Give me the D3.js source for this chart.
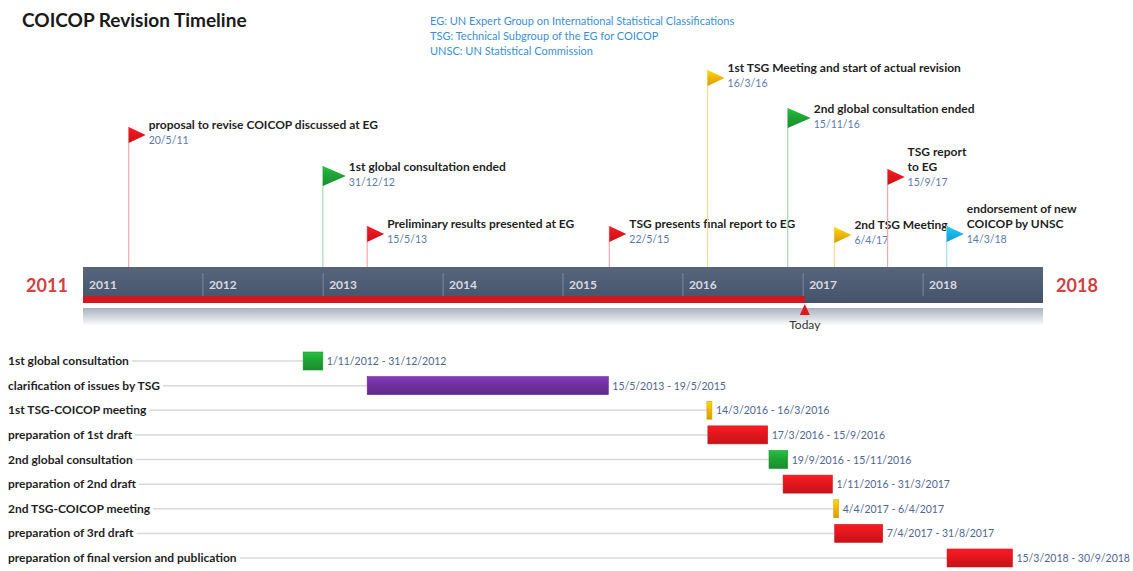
<!DOCTYPE html>
<html>
<head>
<meta charset="utf-8">
<script src="https://cdn.jsdelivr.net/npm/d3@7/dist/d3.min.js"></script>
<style>
  body { margin: 0; background: #fff; }
  svg { display: block; font-family: Lato, "Open Sans", sans-serif; }
</style>
</head>
<body>
<svg id="chart" width="1133" height="571"></svg>
<script>
// --- data ---
var titleText = "COICOP Revision Timeline";
var legendLines = [
    "EG: UN Expert Group on International Statistical Classifications",
    "TSG: Technical Subgroup of the EG for COICOP",
    "UNSC: UN Statistical Commission"
];

var msLabels = [
    "proposal to revise COICOP discussed at EG",
    "1st global consultation ended",
    "Preliminary results presented at EG",
    "TSG presents final report to EG",
    "1st TSG Meeting and start of actual revision",
    "2nd global consultation ended",
    "2nd TSG Meeting",
    "TSG report|to EG",
    "endorsement of new|COICOP by UNSC"
];
var msDates = ["20/5/11", "31/12/12", "15/5/13", "22/5/15", "16/3/16", "15/11/16", "6/4/17", "15/9/17", "14/3/18"];
var msKinds = ["EG", "consultation", "EG", "EG", "meeting", "consultation", "meeting", "EG", "UNSC"];

var taskLabels = [
    "1st global consultation",
    "clarification of issues by TSG",
    "1st TSG-COICOP meeting",
    "preparation of 1st draft",
    "2nd global consultation",
    "preparation of 2nd draft",
    "2nd TSG-COICOP meeting",
    "preparation of 3rd draft",
    "preparation of final version and publication"
];
var taskStarts = ["1/11/2012", "15/5/2013", "14/3/2016", "17/3/2016", "19/9/2016", "1/11/2016", "4/4/2017", "7/4/2017", "15/3/2018"];
var taskEnds = ["31/12/2012", "19/5/2015", "16/3/2016", "15/9/2016", "15/11/2016", "31/3/2017", "6/4/2017", "31/8/2017", "30/9/2018"];
var taskKinds = ["consultation", "TSG", "meeting", "EG", "consultation", "EG", "meeting", "EG", "EG"];

var yearStart = "2011";
var yearEnd = "2018";
var todayDate = "6/1/2017";

// --- layout ---
var svg = d3.select("#chart");
var parseShort = d3.timeParse("%d/%m/%y");
var parseLong = d3.timeParse("%d/%m/%Y");

var x = d3.scaleTime()
    .domain([new Date(+yearStart, 0, 1), new Date(+yearEnd + 1, 0, 1)])
    .range([83, 1043]);

var kindColor = d3.scaleOrdinal()
    .domain(["EG", "consultation", "meeting", "UNSC", "TSG"])
    .range(["#e3161d", "#1fa336", "#f2b705", "#19b4ea", "#7030a0"]);
var poleColor = d3.scaleOrdinal()
    .domain(["EG", "consultation", "meeting", "UNSC"])
    .range(["#f5a9ad", "#a6dcae", "#f7dc8c", "#9ed9f2"]);

// last title line centre of each milestone
var msLevels = [125, 167, 224, 224, 68, 109, 225, 167, 224];

var defs = svg.append("defs");
kindColor.domain().forEach(function (k) {
    var c = d3.color(kindColor(k));
    var g = defs.append("linearGradient").attr("id", "g-" + k)
        .attr("x1", 0).attr("y1", 0).attr("x2", 0).attr("y2", 1);
    g.append("stop").attr("offset", "0%").attr("stop-color", c.brighter(0.5));
    g.append("stop").attr("offset", "45%").attr("stop-color", c);
    g.append("stop").attr("offset", "100%").attr("stop-color", c.darker(0.4));
});
var bg = defs.append("linearGradient").attr("id", "barGrad")
    .attr("x1", 0).attr("y1", 0).attr("x2", 0).attr("y2", 1);
bg.append("stop").attr("offset", "0%").attr("stop-color", "#56647c");
bg.append("stop").attr("offset", "100%").attr("stop-color", "#45526a");
var sh = defs.append("linearGradient").attr("id", "shadowGrad")
    .attr("x1", 0).attr("y1", 0).attr("x2", 0).attr("y2", 1);
sh.append("stop").attr("offset", "0%").attr("stop-color", "#aab1bd");
sh.append("stop").attr("offset", "100%").attr("stop-color", "#ffffff");

// title + legend
svg.append("text").attr("x", 22).attr("y", 27)
    .attr("font-size", 19).attr("font-weight", "bold").attr("fill", "#1a1a1a")
    .text(titleText);

svg.append("g").selectAll("text").data(legendLines).join("text")
    .attr("x", 430).attr("y", function (d, i) { return 25 + i * 15; })
    .attr("font-size", 11).attr("fill", "#3a8fd8")
    .text(function (d) { return d; });

// timeline bar
var barTop = 267, barBottom = 303;
svg.append("rect").attr("x", x.range()[0]).attr("y", barTop)
    .attr("width", x.range()[1] - x.range()[0]).attr("height", barBottom - barTop)
    .attr("fill", "url(#barGrad)");
svg.append("rect").attr("x", x.range()[0]).attr("y", 308)
    .attr("width", x.range()[1] - x.range()[0]).attr("height", 18)
    .attr("fill", "url(#shadowGrad)");

var years = x.ticks(d3.timeYear.every(1)).filter(function (d) { return d < x.domain()[1]; });
svg.append("g").selectAll("line").data(years.slice(1)).join("line")
    .attr("x1", function (d) { return x(d); }).attr("x2", function (d) { return x(d); })
    .attr("y1", 273).attr("y2", 296)
    .attr("stroke", "#7d889c").attr("stroke-width", 1);
svg.append("g").selectAll("text").data(years).join("text")
    .attr("x", function (d) { return x(d) + 6; }).attr("y", 289)
    .attr("font-size", 12).attr("font-weight", "bold").attr("fill", "#d6dae2")
    .text(d3.timeFormat("%Y"));

var today = parseLong(todayDate);
svg.append("rect").attr("x", x.range()[0]).attr("y", 296)
    .attr("width", x(today) - x.range()[0]).attr("height", 7)
    .attr("fill", "#d4161e");
svg.append("path")
    .attr("d", d3.line()([[x(today) - 5, 315], [x(today), 304], [x(today) + 5, 315]]) + "Z")
    .attr("fill", "#e3161d");
svg.append("text").attr("x", x(today)).attr("y", 329).attr("text-anchor", "middle")
    .attr("font-size", 12).attr("fill", "#333").text("Today");

svg.append("text").attr("x", 47).attr("y", 292).attr("text-anchor", "middle")
    .attr("font-size", 18).attr("font-weight", "bold").attr("fill", "#d2403f").text(yearStart);
svg.append("text").attr("x", 1077).attr("y", 292).attr("text-anchor", "middle")
    .attr("font-size", 18).attr("font-weight", "bold").attr("fill", "#d2403f").text(yearEnd);

// milestones
var ms = svg.append("g").selectAll("g").data(msLabels).join("g");
ms.each(function (label, i) {
    var g = d3.select(this);
    var px = x(parseShort(msDates[i]));
    var lvl = msLevels[i];
    var kind = msKinds[i];
    var big = kind == "consultation";
    var fw = big ? 23 : 17, fh = big ? 20 : 16;
    var ftop = lvl + (big ? -1 : 2);
    g.append("line").attr("x1", px).attr("x2", px)
        .attr("y1", ftop).attr("y2", barTop)
        .attr("stroke", poleColor(kind)).attr("stroke-width", 1.2);
    g.append("path")
        .attr("d", d3.line()([[px, ftop], [px + fw, ftop + fh / 2], [px, ftop + fh]]) + "Z")
        .attr("fill", "url(#g-" + kind + ")");
    var lines = label.split("|");
    var tx = px + fw + 3;
    lines.forEach(function (l, j) {
        g.append("text").attr("x", tx)
            .attr("y", lvl - (lines.length - 1 - j) * 15 + 4)
            .attr("font-size", 12).attr("font-weight", "bold").attr("fill", "#1f1f1f")
            .text(l);
    });
    g.append("text").attr("x", tx).attr("y", lvl + 19)
        .attr("font-size", 10.5).attr("fill", "#5b79ad")
        .text(msDates[i]);
});

// gantt rows
var y = d3.scalePoint().domain(taskLabels).range([361, 558]);
var rows = svg.append("g").selectAll("g").data(taskLabels).join("g");
rows.each(function (label, i) {
    var g = d3.select(this);
    var yy = y(label);
    var x0 = x(parseLong(taskStarts[i]));
    var x1 = Math.max(x(parseLong(taskEnds[i])), x0 + 5);
    var t = g.append("text").attr("x", 8).attr("y", yy + 4)
        .attr("font-size", 12).attr("font-weight", "bold").attr("fill", "#1f1f1f")
        .text(label);
    var tw = t.node().getComputedTextLength();
    g.insert("line", "text").attr("x1", 8 + tw + 3).attr("x2", x0)
        .attr("y1", yy).attr("y2", yy)
        .attr("stroke", "#d9d9d9").attr("stroke-width", 1.5);
    g.append("rect").attr("x", x0).attr("y", yy - 9)
        .attr("width", x1 - x0).attr("height", 18)
        .attr("fill", "url(#g-" + taskKinds[i] + ")")
        .attr("stroke", d3.color(kindColor(taskKinds[i])).darker(0.3)).attr("stroke-width", 0.6);
    g.append("text").attr("x", x1 + 4).attr("y", yy + 4)
        .attr("font-size", 10.5).attr("fill", "#4f6690")
        .text(taskStarts[i] + " - " + taskEnds[i]);
});
</script>
</body>
</html>
